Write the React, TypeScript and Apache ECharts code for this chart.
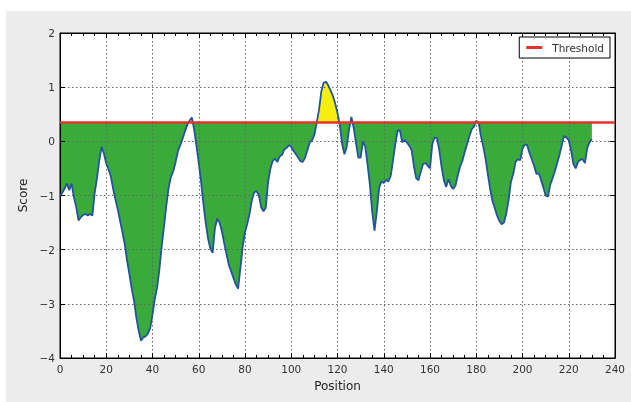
import React, { useEffect, useRef } from "react";
import * as echarts from "echarts";

const THRESHOLD = 0.35;
const xTicks = [0, 240, 20];
const yTicks = [-4, 2, 1];

// Score at positions 0..230 (one per position)
const scores = [
  -1.0, -0.95, -0.87, -0.78, -0.9, -0.78, -1.03, -1.21, -1.46, -1.4,
  -1.36, -1.34, -1.37, -1.34, -1.37, -0.95, -0.68, -0.35, -0.1, -0.23,
  -0.41, -0.52, -0.65, -0.88, -1.08, -1.26, -1.47, -1.68, -1.9, -2.2,
  -2.45, -2.72, -2.94, -3.25, -3.49, -3.68, -3.62, -3.6, -3.55, -3.45,
  -3.2, -2.91, -2.7, -2.36, -1.93, -1.56, -1.18, -0.85, -0.65, -0.55,
  -0.38, -0.18, -0.07, 0.05, 0.18, 0.3, 0.38, 0.44, 0.22, -0.08,
  -0.4, -0.75, -1.15, -1.5, -1.79, -1.98, -2.06, -1.6, -1.43, -1.5,
  -1.66, -1.88, -2.08, -2.28, -2.4, -2.52, -2.64, -2.72, -2.35, -1.95,
  -1.68, -1.52, -1.33, -1.08, -0.94, -0.92, -1.0, -1.22, -1.29, -1.22,
  -0.75, -0.5, -0.36, -0.32, -0.38, -0.28, -0.25, -0.15, -0.12, -0.07,
  -0.1, -0.18, -0.24, -0.3, -0.37, -0.38, -0.3, -0.16, -0.02, 0.02,
  0.12, 0.34, 0.58, 0.92, 1.08, 1.1, 1.03, 0.94, 0.84, 0.7,
  0.52, 0.3, -0.05, -0.24, -0.1, 0.22, 0.45, 0.25, -0.03, -0.3,
  -0.3, 0.0, -0.1, -0.43, -0.8, -1.3, -1.65, -1.3, -0.86, -0.74,
  -0.77, -0.71, -0.74, -0.64, -0.35, -0.05, 0.2, 0.2, -0.02, 0.02,
  -0.02, -0.08, -0.15, -0.45, -0.68, -0.72, -0.56, -0.42, -0.4, -0.45,
  -0.5, -0.05, 0.07, 0.06, -0.16, -0.47, -0.72, -0.84, -0.7, -0.82,
  -0.88, -0.82, -0.63, -0.47, -0.36, -0.2, -0.06, 0.09, 0.22, 0.27,
  0.38, 0.35, 0.1, -0.09, -0.32, -0.6, -0.88, -1.1, -1.23, -1.37,
  -1.47, -1.53, -1.5, -1.33, -1.08, -0.75, -0.6, -0.38, -0.33, -0.35,
  -0.14, -0.06, -0.07, -0.21, -0.33, -0.45, -0.6, -0.59, -0.71, -0.85,
  -1.0, -1.02, -0.8, -0.68, -0.55, -0.4, -0.25, -0.07, 0.1, 0.07,
  0.02, -0.16, -0.42, -0.5, -0.38, -0.34, -0.33, -0.4, -0.12, -0.02,
  0.04,
];

const FONT = "'DejaVu Sans', sans-serif";

function clipped(mode: "below" | "above"): number[][] {
  const out: number[][] = [];
  const f = mode === "below" ? Math.min : Math.max;
  for (let i = 0; i < scores.length; i++) {
    const v = scores[i];
    if (i > 0) {
      const p = scores[i - 1];
      if ((p - THRESHOLD) * (v - THRESHOLD) < 0) {
        const t = (THRESHOLD - p) / (v - p);
        out.push([i - 1 + t, THRESHOLD]);
      }
    }
    out.push([i, f(v, THRESHOLD)]);
  }
  return out;
}

export default function App() {
  const ref = useRef<HTMLDivElement>(null);
  useEffect(() => {
    if (!ref.current) return;
    const chart = echarts.init(ref.current, null, { renderer: "svg" });
    const minus = (v: number) => String(v).replace("-", "\u2212");
    const axisLine = { show: true, onZero: false, lineStyle: { color: "#000", width: 1 } };
    chart.setOption({
      animation: false,
      textStyle: { fontFamily: FONT },
      graphic: [
        {
          type: "rect",
          z: -10,
          silent: true,
          shape: { x: 6, y: 11, width: 625, height: 391 },
          style: { fill: "#ececec" },
        },
      ],
      grid: {
        left: 60,
        right: 16,
        top: 33,
        bottom: 44,
        show: true,
        backgroundColor: "#ffffff",
        borderColor: "#000000",
        borderWidth: 1,
      },
      legend: {
        data: ["Threshold"],
        right: 21,
        top: 37,
        orient: "vertical",
        icon: "rect",
        itemWidth: 16,
        itemHeight: 3,
        padding: [5, 6, 5, 7],
        borderColor: "#000",
        borderWidth: 1,
        borderRadius: 0,
        backgroundColor: "#fff",
        textStyle: { fontFamily: FONT, fontSize: 10.5, color: "#333", padding: [0, 0, 0, 5] },
      },
      xAxis: [
        {
          type: "value",
          min: xTicks[0],
          max: xTicks[1],
          interval: xTicks[2],
          z: 3,
          name: "Position",
          nameLocation: "middle",
          nameGap: 22,
          nameTextStyle: { fontFamily: FONT, fontSize: 12, color: "#222" },
          axisLine,
          axisTick: { inside: true, length: 5, lineStyle: { color: "#000" } },
          minorTick: { show: true, splitNumber: 4, length: 3, lineStyle: { color: "#000" } },
          axisLabel: { fontFamily: FONT, fontSize: 10.5, color: "#333", margin: 5 },
          splitLine: { show: true, lineStyle: { color: "#666", width: 1, type: [1.5, 2.5] } },
        },
        {
          type: "value",
          position: "top",
          min: xTicks[0],
          max: xTicks[1],
          interval: xTicks[2],
          z: 3,
          axisLine,
          axisTick: { inside: true, length: 5, lineStyle: { color: "#000" } },
          minorTick: { show: true, splitNumber: 4, length: 3, lineStyle: { color: "#000" } },
          axisLabel: { show: false },
          splitLine: { show: false },
        },
      ],
      yAxis: [
        {
          type: "value",
          min: yTicks[0],
          max: yTicks[1],
          interval: yTicks[2],
          z: 3,
          name: "Score",
          nameLocation: "middle",
          nameGap: 27,
          nameTextStyle: { fontFamily: FONT, fontSize: 12, color: "#222" },
          axisLine,
          axisTick: { inside: true, length: 5, lineStyle: { color: "#000" } },
          axisLabel: { fontFamily: FONT, fontSize: 10.5, color: "#333", margin: 5, formatter: minus },
          splitLine: { show: true, lineStyle: { color: "#666", width: 1, type: [1.5, 2.5] } },
        },
        {
          type: "value",
          position: "right",
          min: yTicks[0],
          max: yTicks[1],
          interval: yTicks[2],
          z: 3,
          axisLine,
          axisTick: { inside: true, length: 5, lineStyle: { color: "#000" } },
          axisLabel: { show: false },
          splitLine: { show: false },
        },
      ],
      series: [
        {
          name: "below",
          type: "line",
          z: 1,
          data: clipped("below"),
          showSymbol: false,
          symbol: "none",
          lineStyle: { width: 0, opacity: 0 },
          areaStyle: { color: "#3aaa3a", opacity: 1, origin: THRESHOLD },
          silent: true,
        },
        {
          name: "above",
          type: "line",
          z: 1,
          data: clipped("above"),
          showSymbol: false,
          symbol: "none",
          lineStyle: { width: 0, opacity: 0 },
          areaStyle: { color: "#f5ee10", opacity: 1, origin: THRESHOLD },
          silent: true,
        },
        {
          name: "Score",
          type: "line",
          z: 4,
          data: scores.map((v, i) => [i, v]),
          showSymbol: false,
          symbol: "none",
          lineStyle: { color: "#22549e", width: 1.8 },
        },
        {
          name: "Threshold",
          type: "line",
          z: 5,
          data: [
            [xTicks[0], THRESHOLD],
            [xTicks[1], THRESHOLD],
          ],
          showSymbol: false,
          symbol: "none",
          itemStyle: { color: "#e0352b" },
          lineStyle: { color: "#e0352b", width: 2.5 },
        },
      ],
    });
    return () => chart.dispose();
  }, []);
  return (
    <div
      ref={ref}
      style={{ position: "fixed", left: 0, top: 0, width: 631, height: 402 }}
    />
  );
}
